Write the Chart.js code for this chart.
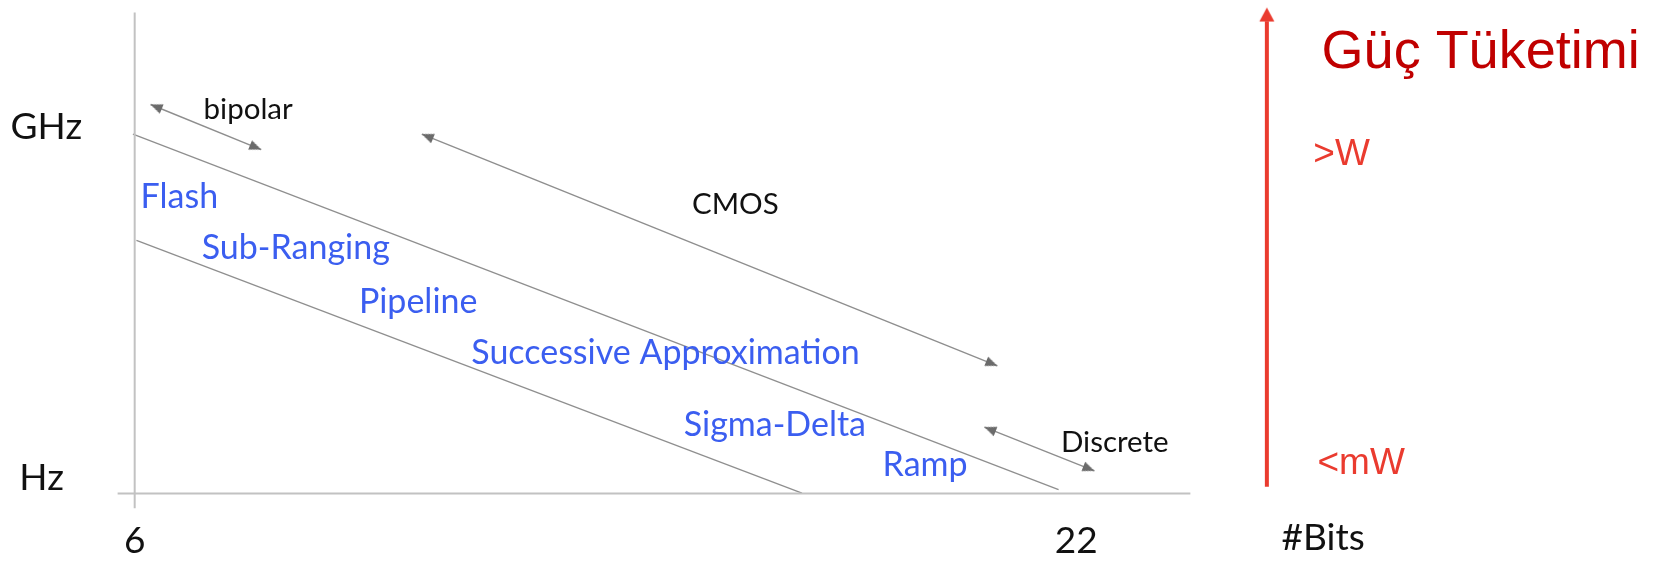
<!DOCTYPE html>
<html><head><meta charset="utf-8">
<script src="https://cdn.jsdelivr.net/npm/chart.js@4/dist/chart.umd.min.js"></script>
<style>html,body{margin:0;padding:0;background:#fff;overflow:hidden}#wrap{width:1653px;height:562px}</style>
</head><body><div id="wrap"><canvas id="c" width="1653" height="562"></canvas></div>
<script>
// ---- data (x: number of bits, y: log10 of conversion rate) ----
const bitTicks = [6, 22];
const bitTickLabels = ['6', '22'];
const bitAxisTitle = '#Bits';
const freqLabels = ['GHz', 'Hz'];
const freqLabelBits = [3.89, 4.04];
const freqLabelLevels = [8.74, 0.09];

const axisXBits = [5.71, 23.94];
const axisYLevels = [11.86, -0.36];

const upperBoundBits = [5.97, 21.70];
const upperBoundLevels = [8.86, 0.10];
const lowerBoundBits = [6.03, 17.34];
const lowerBoundLevels = [6.24, 0.01];

const techNames = ['bipolar', 'CMOS', 'Discrete'];
const techArrowBits = [[6.27, 8.15], [10.88, 20.66], [20.44, 22.31]];
const techArrowLevels = [[9.59, 8.48], [8.86, 3.15], [1.64, 0.56]];
const techLabelBits = [7.17, 15.47, 21.74];
const techLabelLevels = [9.23, 6.88, 1.02];

const familyNames = ['Flash', 'Sub-Ranging', 'Pipeline', 'Successive Approximation', 'Sigma-Delta', 'Ramp'];
const familyLabelBits = [6.10, 7.14, 9.81, 11.72, 15.33, 18.71];
const familyLabelLevels = [7.04, 5.79, 4.46, 3.20, 1.42, 0.44];

const powerTitle = 'Güç Tüketimi';
const powerLabels = ['>W', '<mW'];
const powerLabelBits = [26.03, 26.10];
const powerLabelLevels = [8.10, 0.49];
const powerArrowBits = 25.24;
const powerArrowLevels = [0.17, 11.64];
const powerArrowTip = 11.98;
const powerTitleBits = 26.17;
const powerTitleLevel = 10.48;
const bitTickLevel = -1.46;
const bitTitleBits = 25.49;
const bitTitleLevel = -1.38;

// ---- styling helpers ----
function arrowHead(color, len, width) {
  const s = Math.ceil(len * 2 + 4);
  const c = document.createElement('canvas');
  c.width = s; c.height = s;
  const g = c.getContext('2d');
  const cx = s / 2, cy = s / 2;
  g.fillStyle = color;
  g.beginPath();
  g.moveTo(cx, cy);
  g.lineTo(cx - width / 2, cy + len);
  g.lineTo(cx + width / 2, cy + len);
  g.closePath();
  g.fill();
  return c;
}
const grayHead = arrowHead('#6b6b6b', 12, 10);
const redHead = arrowHead('#ea3b2f', 14, 15);

function headRotation(ctx) {
  const ds = ctx.dataset.data;
  const i = ctx.dataIndex, j = 1 - i;
  const sx = ctx.chart.scales.x, sy = ctx.chart.scales.y;
  const dx = sx.getPixelForValue(ds[i].x) - sx.getPixelForValue(ds[j].x);
  const dy = sy.getPixelForValue(ds[i].y) - sy.getPixelForValue(ds[j].y);
  return Math.atan2(dx, -dy) * 180 / Math.PI;
}

function seg(xs, ys) { return xs.map((x, k) => ({x: x, y: ys[k]})); }
function plainLine(data, color, width) {
  return {data, showLine: true, borderColor: color, borderWidth: width, pointRadius: 0, pointHoverRadius: 0, fill: false};
}

const datasets = [
  plainLine(seg(axisXBits, [0, 0]), '#c2c2c2', 2),
  plainLine(seg([6, 6], axisYLevels), '#c2c2c2', 2),
  plainLine(seg(upperBoundBits, upperBoundLevels), '#8f8f8f', 1.3),
  plainLine(seg(lowerBoundBits, lowerBoundLevels), '#8f8f8f', 1.3),
];
techNames.forEach((n, k) => {
  datasets.push({
    label: n,
    data: seg(techArrowBits[k], techArrowLevels[k]),
    showLine: true, borderColor: '#8e8e8e', borderWidth: 1.4,
    pointStyle: grayHead, pointRadius: 3, pointHoverRadius: 3,
    pointRotation: headRotation
  });
});
datasets.push(plainLine(seg([powerArrowBits, powerArrowBits], powerArrowLevels), '#ea3b2f', 4));
datasets.push({data: [{x: powerArrowBits, y: powerArrowTip}], showLine: false,
  pointStyle: redHead, pointRadius: 3, pointHoverRadius: 3, pointRotation: 0});

const textPlugin = {
  id: 'diagramText',
  afterDatasetsDraw(chart) {
    const g = chart.ctx;
    const sx = chart.scales.x, sy = chart.scales.y;
    const put = (t, bx, lv, font, color, align) => {
      g.font = font; g.fillStyle = color; g.textAlign = align || 'left'; g.textBaseline = 'alphabetic';
      g.fillText(t, sx.getPixelForValue(bx), sy.getPixelForValue(lv));
    };
    g.save();
    const axisFont = '37px Lato';
    freqLabels.forEach((t, k) => put(t, freqLabelBits[k], freqLabelLevels[k], axisFont, '#111'));
    bitTicks.forEach((b, k) => put(bitTickLabels[k], b, bitTickLevel, axisFont, '#111', 'center'));
    put(bitAxisTitle, bitTitleBits, bitTitleLevel, axisFont, '#111');
    techNames.forEach((t, k) => put(t, techLabelBits[k], techLabelLevels[k], '29.5px Lato', '#111'));
    familyNames.forEach((t, k) => put(t, familyLabelBits[k], familyLabelLevels[k], '34px Lato', '#3b5ef0'));
    put(powerTitle, powerTitleBits, powerTitleLevel, '54px "Liberation Sans"', '#c00000');
    powerLabels.forEach((t, k) => put(t, powerLabelBits[k], powerLabelLevels[k], '37px "Liberation Sans"', '#ea3b2f'));
    g.restore();
  }
};

new Chart(document.getElementById('c'), {
  type: 'scatter',
  data: {datasets},
  options: {
    responsive: false, animation: false, devicePixelRatio: 1,
    layout: {padding: 0},
    plugins: {legend: {display: false}, tooltip: {enabled: false}, title: {display: false}},
    events: [],
    scales: {
      x: {type: 'linear', display: false, min: 3.786, max: 31.727},
      y: {type: 'linear', display: false, min: -1.577, max: 12.057}
    }
  },
  plugins: [textPlugin]
});
</script></body></html>
